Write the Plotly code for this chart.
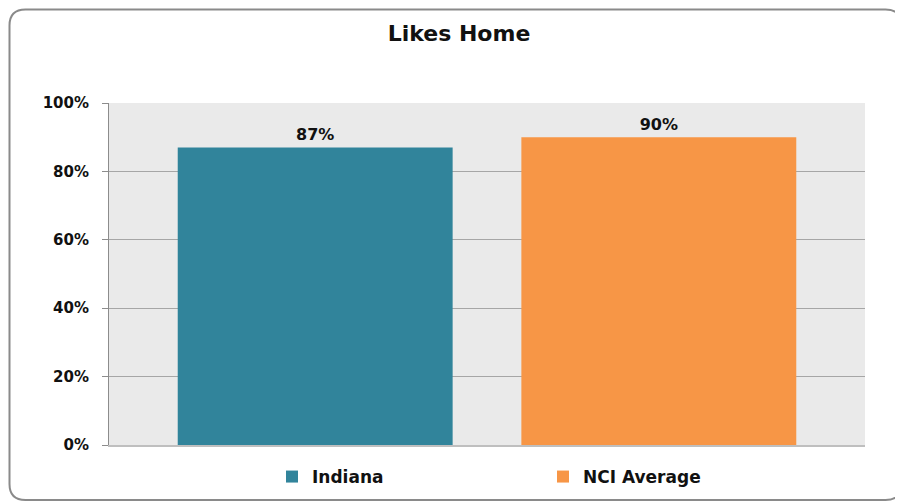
import plotly.graph_objects as go

categories = ["Indiana", "NCI Average"]
values = [0.87, 0.90]
colors = ["#31849B", "#F79646"]
title_text = "Likes Home"
y_ticks = [0, 0.2, 0.4, 0.6, 0.8, 1.0]
y_tick_labels = ["0%", "20%", "40%", "60%", "80%", "100%"]

# the page body has an 8px margin, so the figure is sized to fit the window
OFF = 8
W, H = 903 - OFF, 502 - OFF
L, R, T, B = 109 - OFF, 38, 103 - OFF, 57
pw, ph = W - L - R, H - T - B

def px_x(x):  # page pixel -> paper fraction
    return (x - OFF - L) / pw

def px_y(y):
    return (H - B - (y - OFF)) / ph

FONT = "DejaVu Sans"

fig = go.Figure()
for cat, val, col in zip(categories, values, colors):
    fig.add_trace(go.Bar(
        x=[cat], y=[val], name=cat,
        marker=dict(color=col, line=dict(width=0)),
        texttemplate="%{y:.0%}", textposition="outside",
        textfont=dict(family=FONT, size=16, color="#111111", weight="bold"),
        cliponaxis=False,
    ))

# rounded frame
x0, x1, y0, y1, r = 9.5, 901.5, 9.5, 500, 16
path = (f"M {px_x(x0 + r)},{px_y(y0)} L {px_x(x1 - r)},{px_y(y0)} "
        f"Q {px_x(x1)},{px_y(y0)} {px_x(x1)},{px_y(y0 + r)} "
        f"L {px_x(x1)},{px_y(y1 - r)} Q {px_x(x1)},{px_y(y1)} {px_x(x1 - r)},{px_y(y1)} "
        f"L {px_x(x0 + r)},{px_y(y1)} Q {px_x(x0)},{px_y(y1)} {px_x(x0)},{px_y(y1 - r)} "
        f"L {px_x(x0)},{px_y(y0 + r)} Q {px_x(x0)},{px_y(y0)} {px_x(x0 + r)},{px_y(y0)} Z")

fig.update_layout(
    width=W, height=H,
    margin=dict(l=L, r=R, t=T, b=B, autoexpand=False),
    paper_bgcolor="white",
    plot_bgcolor="#EAEAEA",
    barmode="overlay",
    bargap=0.2,
    title=dict(text=title_text, x=(459 - OFF) / W, xanchor="center", y=1 - (33 - OFF) / H, yanchor="middle",
               font=dict(family=FONT, size=22, color="#111111", weight="bold")),
    xaxis=dict(range=[-0.6, 1.6], showticklabels=False, ticks="", showgrid=False,
               showline=True, linecolor="#BFBFBF", linewidth=2, zeroline=False, fixedrange=True,
               automargin=False),
    yaxis=dict(range=[0, 1], tickvals=y_ticks, ticktext=y_tick_labels,
               showgrid=True, gridcolor="#A6A6A6", gridwidth=1,
               showline=True, linecolor="#8C8C8C", linewidth=1, zeroline=False,
               ticks="outside", ticklen=6, tickcolor="#8C8C8C", ticklabelstandoff=10,
               automargin=False,
               tickfont=dict(family=FONT, size=15, color="#111111", weight="bold")),
    legend=dict(orientation="h", x=px_x(272), xanchor="left", y=px_y(477), yanchor="middle",
                entrywidth=226, entrywidthmode="pixels",
                font=dict(family=FONT, size=17, color="#111111", weight="bold"),
                bgcolor="rgba(0,0,0,0)"),
    showlegend=True,
    shapes=[dict(type="path", path=path, xref="paper", yref="paper",
                 line=dict(color="#8A8A8A", width=2), fillcolor="rgba(0,0,0,0)", layer="below")],
)

fig.write_html("out.html")
